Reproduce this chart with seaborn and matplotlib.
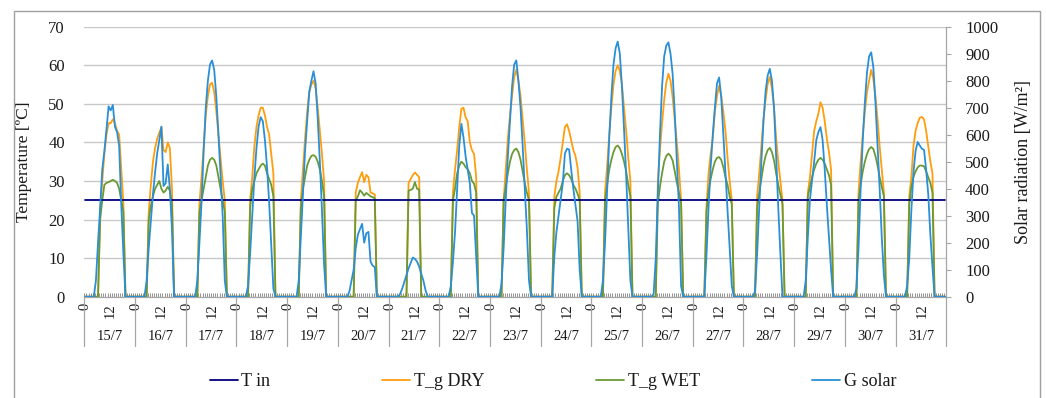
import numpy as np
import pandas as pd
import matplotlib
matplotlib.use("Agg")
import matplotlib.pyplot as plt
import seaborn as sns
from matplotlib.patches import Rectangle
from matplotlib.lines import Line2D
from matplotlib.transforms import blended_transform_factory

# ---------------- data ----------------
DAYS = ["15/7", "16/7", "17/7", "18/7", "19/7", "20/7", "21/7", "22/7", "23/7",
        "24/7", "25/7", "26/7", "27/7", "28/7", "29/7", "30/7", "31/7"]
HOUR_TICKS = [0, 12]
HOUR_TICK_LABELS = ["0", "12"]
SERIES = ["T in", "T_g DRY", "T_g WET", "G solar"]

T_IN = 25.0  # constant indoor temperature [ºC]

# hourly values (hours 0..23) for every day
T_DRY = [
    [0,0,0,0,0,0,0,22,30,37,42,45,45,46,45,43,42,33,24,0,0,0,0,0],
    [0,0,0,0,0,0,22,29,35,38.5,41,42.5,44,38,37.5,40,38.5,28,0,0,0,0,0,0],
    [0,0,0,0,0,0,24,31,39,47,52,55,55.5,53,48,42,36,30,25,0,0,0,0,0],
    [0,0,0,0,0,0,25,31,39,44,47,49,49,47,44,42,37,32,0,0,0,0,0,0],
    [0,0,0,0,0,0,25,33,41,48,53,55,56,54,49,43,37,30,0,0,0,0,0,0],
    [0,0,0,0,0,0,0,0,27,29.5,31,32.3,29.7,31.6,31,27,26.8,26.5,0,0,0,0,0,0],
    [0,0,0,0,0,0,0,0,0,29.5,30.5,31.5,32.2,31.6,31,0,0,0,0,0,0,0,0,0],
    [0,0,0,0,0,0,27,33,38,44,48.7,49,46.5,45.5,40,38,37,31,0,0,0,0,0,0],
    [0,0,0,0,0,0,25,33,41,47,52,57,58.8,56,52,46,40,33,27,0,0,0,0,0],
    [0,0,0,0,0,0,26,30,32.5,36,40,44,44.7,43,40.5,38,36.5,33.5,27,0,0,0,0,0],
    [0,0,0,0,0,0,27,34,42,49,55,58.5,60,58.5,55,49,43,36,30,0,0,0,0,0],
    [0,0,0,0,0,0,0,30,38,45,51,55.5,57.8,56,51.7,46,40,33,25,0,0,0,0,0],
    [0,0,0,0,0,0,23,32,37,41,48,52,54.7,52,48,43,36,30,25,0,0,0,0,0],
    [0,0,0,0,0,0,26,32,39,46,51,55.2,57,54,49,41,35,30,25,0,0,0,0,0],
    [0,0,0,0,0,0,27,31,37,43,45.5,47.5,50.4,49,45.5,41,37.5,33,0,0,0,0,0,0],
    [0,0,0,0,0,0,27,35,42,48,53,56,58.8,56.5,52,46,39,33,27,0,0,0,0,0],
    [0,0,0,0,0,0,26,31,39,43,45,46.4,46.6,46,43,39,35,32,0,0,0,0,0,0],
]

T_WET = [
    [0,0,0,0,0,0,0,20,25,29,29.5,29.7,30,30.3,30,29.5,28,25,22,0,0,0,0,0],
    [0,0,0,0,0,0,20,23.5,26,28,29,30,28,27,27.5,28.5,27.5,24,0,0,0,0,0,0],
    [0,0,0,0,0,0,22,25,28,31,34,35.5,36,35.5,34,31,28,25,22,0,0,0,0,0],
    [0,0,0,0,0,0,23,28,30,32,33,34,34.5,34,32,30.5,29,26,0,0,0,0,0,0],
    [0,0,0,0,0,0,23,28,31,34,35.5,36.5,36.7,36.3,35,33,30,26,0,0,0,0,0,0],
    [0,0,0,0,0,0,0,0,25,26,27.6,27,26.2,26.9,26.5,26,25.8,25.5,0,0,0,0,0,0],
    [0,0,0,0,0,0,0,0,0,27.5,27.7,28,29.7,28,27.8,0,0,0,0,0,0,0,0,0],
    [0,0,0,0,0,0,25,28,32,34,35,34.5,33.6,33,32,30,29.3,27,0,0,0,0,0,0],
    [0,0,0,0,0,0,25,28.5,32,35,37,38,38.4,37.5,35.5,32.5,29.5,27,25,0,0,0,0,0],
    [0,0,0,0,0,0,23,25.9,27,28,30,31.5,32,31.5,30.5,29,28,26.7,25,0,0,0,0,0],
    [0,0,0,0,0,0,25,29,33,35.5,37.5,38.8,39.2,38.5,37,35,32.5,29,26,0,0,0,0,0],
    [0,0,0,0,0,0,0,24,28.5,32,35,36.5,37.1,36.5,35.3,32.5,29.5,27,24,0,0,0,0,0],
    [0,0,0,0,0,0,22,27.5,30.5,33,35,36,36.2,35.5,33.6,31,29,26,24,0,0,0,0,0],
    [0,0,0,0,0,0,23,27,30.5,34,36.5,38,38.6,37.5,35.3,32,29,26.5,24,0,0,0,0,0],
    [0,0,0,0,0,0,26,28.5,31,33,34.5,35.5,36,35.5,34.5,33,31.5,29,0,0,0,0,0,0],
    [0,0,0,0,0,0,25,29,32.5,35,37,38.3,38.8,38.3,36.5,34,31,28.5,26,0,0,0,0,0],
    [0,0,0,0,0,0,24,28.5,31,32.5,33.5,34,34,33.8,32.5,31,29.5,27,0,0,0,0,0,0],
]

G_SOLAR = [
    [0,0,0,0,0,60,200,330,470,540,620,705,690,710,630,610,560,340,160,0,0,0,0,0],
    [0,0,0,0,0,60,180,280,380,460,530,580,630,410,420,490,400,250,0,0,0,0,0,0],
    [0,0,0,0,0,60,200,350,540,700,800,860,875,840,740,600,450,300,60,0,0,0,0,0],
    [0,0,0,0,0,40,160,300,440,550,630,665,650,580,480,350,190,30,0,0,0,0,0,0],
    [0,0,0,0,0,60,220,380,540,650,760,800,835,790,660,500,320,120,0,0,0,0,0,0],
    [0,0,0,0,0,20,60,100,180,230,250,270,200,235,240,130,115,110,0,0,0,0,0,0],
    [0,0,0,0,0,10,30,55,80,105,125,145,140,130,112,85,60,25,0,0,0,0,0,0],
    [0,0,0,0,0,40,130,240,400,560,640,590,520,470,420,310,300,150,0,0,0,0,0,0],
    [0,0,0,0,0,50,180,360,520,650,780,860,875,800,700,560,400,250,60,0,0,0,0,0],
    [0,0,0,0,0,0,150,240,300,360,420,530,548,545,470,400,340,280,100,0,0,0,0,0],
    [0,0,0,0,0,60,200,400,590,740,860,920,945,900,780,620,450,250,60,0,0,0,0,0],
    [0,0,0,0,0,10,140,380,600,780,890,930,942,900,825,680,500,330,40,0,0,0,0,0],
    [0,0,0,0,0,0,150,330,480,600,700,790,812,740,600,460,320,180,40,0,0,0,0,0],
    [0,0,0,0,0,20,160,330,500,650,760,820,844,800,700,520,330,160,0,0,0,0,0,0],
    [0,0,0,0,0,60,220,360,430,500,580,610,628,580,470,340,220,100,0,0,0,0,0,0],
    [0,0,0,0,0,30,180,400,580,720,830,890,905,850,720,560,400,220,80,0,0,0,0,0],
    [0,0,0,0,0,40,140,320,460,540,573,560,548,544,470,380,230,110,0,0,0,0,0,0],
]

COLORS = {"T in": "#00007F", "T_g DRY": "#FF9E0D", "T_g WET": "#6A9A33", "G solar": "#2A8FD6"}

# ---------------- styling ----------------
sns.set_theme(style="white")
plt.rcParams["font.family"] = ["Liberation Serif", "DejaVu Serif"]
TXT = "#1a1a1a"
GRID = "#c8c8c8"
AXC = "#a6a6a6"

n_hours = len(DAYS) * 24
df = pd.DataFrame({
    "x": np.arange(n_hours) + 0.5,
    "T in": np.full(n_hours, T_IN),
    "T_g DRY": np.concatenate([np.array(d, float) for d in T_DRY]),
    "T_g WET": np.concatenate([np.array(d, float) for d in T_WET]),
    "G solar": np.concatenate([np.array(d, float) for d in G_SOLAR]),
})

W, H = 1046, 398
fig = plt.figure(figsize=(W / 100, H / 100), dpi=100)
L, R, T, B = 84.3, 946.2, 26.7, 296.7
ax = fig.add_axes([L / W, 1 - B / H, (R - L) / W, (B - T) / H])
ax2 = ax.twinx()

lw = 1.3
sns.lineplot(data=df, x="x", y="T_g DRY", ax=ax, color=COLORS["T_g DRY"], lw=lw, zorder=3)
sns.lineplot(data=df, x="x", y="T_g WET", ax=ax, color=COLORS["T_g WET"], lw=lw, zorder=4)
sns.lineplot(data=df, x="x", y="T in", ax=ax, color=COLORS["T in"], lw=lw, zorder=5)
sns.lineplot(data=df, x="x", y="G solar", ax=ax2, color=COLORS["G solar"], lw=lw, zorder=6)

# axes limits / ticks
ax.set_xlim(0, n_hours)
ax.set_ylim(0, 70)
ax2.set_ylim(0, 1000)
ax.set_yticks(range(0, 71, 10))
ax2.set_yticks(range(0, 1001, 100))
ax.yaxis.grid(True, color=GRID, lw=1.0)
ax.xaxis.grid(False)
ax.set_axisbelow(True)

major_pos = [d * 24 + h + 0.5 for d in range(len(DAYS)) for h in HOUR_TICKS]
major_lab = [lab for d in range(len(DAYS)) for lab in HOUR_TICK_LABELS]
ax.set_xticks(major_pos)
ax.set_xticklabels(major_lab, rotation=90, va="top", ha="center")
ax.set_xticks(np.arange(0, n_hours + 1), minor=True)
ax.tick_params(axis="x", which="major", length=0, pad=4.5, labelsize=10.5, labelcolor=TXT)
ax.tick_params(axis="x", which="minor", length=3, width=0.7, direction="in", color="#8f8f8f", bottom=True)
ax.tick_params(axis="y", length=0, pad=14, labelsize=12, labelcolor=TXT)
ax2.tick_params(axis="y", length=3.6, width=0.8, direction="out", color=AXC, pad=10,
                labelsize=12, labelcolor=TXT, right=True)

for s in ["left", "top", "right"]:
    ax.spines[s].set_visible(False)
ax.spines["bottom"].set_color(AXC)
ax.spines["bottom"].set_linewidth(0.9)
for s in ["left", "top", "bottom"]:
    ax2.spines[s].set_visible(False)
ax2.spines["right"].set_color(AXC)
ax2.spines["right"].set_linewidth(0.9)

ax.set_xlabel("")
ax.set_ylabel("Temperature [ºC]", fontsize=12.5, color=TXT)
ax.yaxis.set_label_coords(-52 / (R - L), 0.5)
ax2.set_ylabel("Solar radiation [W/m²]", fontsize=13, color=TXT, rotation=90)
ax2.yaxis.set_label_coords(1 + 69 / (R - L), 0.5)

# multi-level category axis: day separators and day labels
trans = blended_transform_factory(ax.transData, ax.transAxes)
sep_bottom = (B - 346) / (B - T)
for d in range(len(DAYS) + 1):
    ax.plot([d * 24, d * 24], [0, sep_bottom], transform=trans, color=AXC, lw=0.9,
            clip_on=False, zorder=1)
day_y = (B - 337) / (B - T)
for d, lab in enumerate(DAYS):
    ax.text(d * 24 + 12, day_y, lab, transform=trans, ha="center", va="center",
            fontsize=10.5, color=TXT)

# legend
handles = [Line2D([], [], color=COLORS[s], lw=lw) for s in SERIES]
fig.legend(handles, SERIES, loc="center", bbox_to_anchor=(553 / W, 1 - 381.7 / H), ncol=4,
           frameon=False, fontsize=13, handlelength=1.55, handletextpad=0.2,
           columnspacing=6.2, labelcolor=TXT)

# outer chart border
fig.patches.append(Rectangle((14 / W, -0.02), (1040 - 14) / W, 1 - 10.7 / H + 0.02,
                             transform=fig.transFigure, fill=False, ec="#a0a0a0", lw=1.0))

fig.savefig("out.png", dpi=100)
